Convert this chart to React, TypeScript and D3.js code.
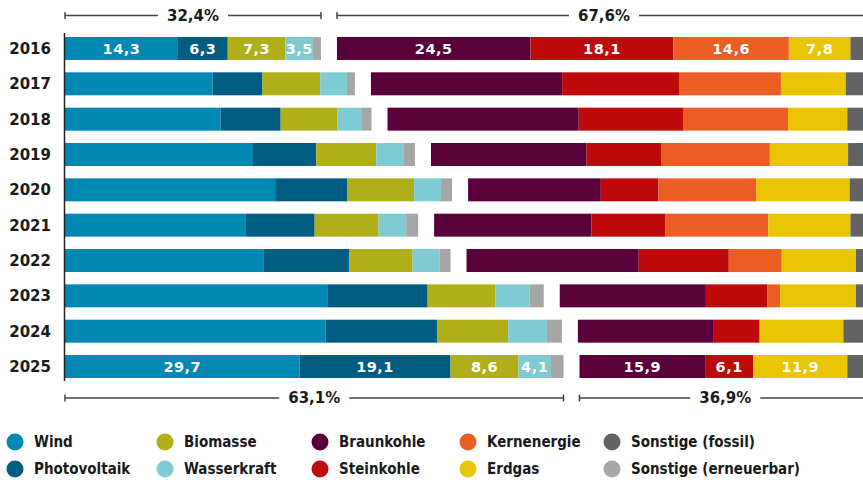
import React from "react";
import * as d3 from "d3";

const years = ["2016", "2017", "2018", "2019", "2020", "2021", "2022", "2023", "2024", "2025"];

const wind = [14.3, 18.7, 19.7, 23.8, 26.6, 22.9, 25.1, 33.2, 33.0, 29.7];
const photovoltaik = [6.3, 6.3, 7.6, 8.0, 9.1, 8.7, 10.9, 12.7, 14.1, 19.1];
const biomasse = [7.3, 7.3, 7.2, 7.6, 8.5, 8.1, 8.0, 8.6, 9.0, 8.6];
const wasserkraft = [3.5, 3.4, 3.0, 3.5, 3.4, 3.5, 3.4, 4.3, 4.9, 4.1];
const sonstigeErneuerbar = [1.0, 1.0, 1.3, 1.4, 1.4, 1.5, 1.4, 1.8, 1.9, 1.6];

const braunkohle = [24.5, 24.2, 24.2, 19.7, 16.8, 19.9, 21.8, 18.5, 17.2, 15.9];
const steinkohle = [18.1, 14.8, 13.2, 9.5, 7.3, 9.4, 11.4, 7.8, 5.8, 6.1];
const kernenergie = [14.6, 12.9, 13.3, 13.7, 12.4, 13.0, 6.7, 1.6, 0, 0];
const erdgas = [7.8, 8.2, 7.5, 9.9, 11.8, 10.4, 9.4, 9.6, 10.6, 11.9];
const sonstigeFossil = [2.6, 3.2, 3.0, 2.9, 2.7, 2.6, 1.9, 1.9, 3.4, 3.0];

const renewables = [
  { name: "Wind", values: wind, color: "#0088b3", label: true },
  { name: "Photovoltaik", values: photovoltaik, color: "#005c80", label: true },
  { name: "Biomasse", values: biomasse, color: "#b0af1a", label: true },
  { name: "Wasserkraft", values: wasserkraft, color: "#7fcbd4", label: true },
  { name: "Sonstige (erneuerbar)", values: sonstigeErneuerbar, color: "#a6a6a6", label: false },
];
const fossils = [
  { name: "Braunkohle", values: braunkohle, color: "#59003a", label: true },
  { name: "Steinkohle", values: steinkohle, color: "#bf0a0c", label: true },
  { name: "Kernenergie", values: kernenergie, color: "#ea5e23", label: true },
  { name: "Erdgas", values: erdgas, color: "#e9c400", label: true },
  { name: "Sonstige (fossil)", values: sonstigeFossil, color: "#636363", label: false },
];

const legendColumns = [
  ["Wind", "Photovoltaik"],
  ["Biomasse", "Wasserkraft"],
  ["Braunkohle", "Steinkohle"],
  ["Kernenergie", "Erdgas"],
  ["Sonstige (fossil)", "Sonstige (erneuerbar)"],
];

const W = 863;
const H = 482;
const GAP = 16;
const boldFont = "'DejaVu Sans', sans-serif";
const legendFont = "'DejaVu Sans Condensed', 'DejaVu Sans', sans-serif";
const fmt = (v: number) => d3.format(".1f")(v).replace(".", ",");

export default function App() {
  const x = d3.scaleLinear().domain([0, 100]).range([65, 855]);
  const y = d3.scaleBand<string>().domain(years).range([37, 378]).paddingInner(0.35).paddingOuter(0);
  const k = x(1) - x(0);
  const bh = y.bandwidth();

  const allSeries = [...renewables, ...fossils];
  const colorOf = (n: string) => allSeries.find((s) => s.name === n)!.color;

  const renTotal = (i: number) => d3.sum(renewables, (s) => s.values[i]);
  const fosTotal = (i: number) => d3.sum(fossils, (s) => s.values[i]);

  const rects: any[] = [];
  years.forEach((yr, i) => {
    let cum = 0;
    const labelRow = i === 0 || i === years.length - 1;
    renewables.forEach((s) => {
      const v = s.values[i];
      const x0 = x(cum);
      rects.push({ key: `${yr}-${s.name}`, x: x0, w: v * k, y: y(yr)!, color: s.color, text: labelRow && s.label && v > 0 ? fmt(v) : null });
      cum += v;
    });
    const fStart = x(renTotal(i)) + GAP;
    let fc = 0;
    fossils.forEach((s) => {
      const v = s.values[i];
      rects.push({ key: `${yr}-${s.name}`, x: fStart + fc * k, w: v * k, y: y(yr)!, color: s.color, text: labelRow && s.label && v > 0 ? fmt(v) : null });
      fc += v;
    });
  });

  const bracket = (x1: number, x2: number, yy: number, text: string, key: string) => {
    const cx = (x1 + x2) / 2;
    const half = 35;
    return (
      <g key={key}>
        <line x1={x1} x2={cx - half} y1={yy} y2={yy} stroke="#444" strokeWidth={1.5} />
        <line x1={cx + half} x2={x2} y1={yy} y2={yy} stroke="#444" strokeWidth={1.5} />
        <line x1={x1} x2={x1} y1={yy - 3.5} y2={yy + 3.5} stroke="#444" strokeWidth={1.5} />
        <line x1={x2} x2={x2} y1={yy - 3.5} y2={yy + 3.5} stroke="#444" strokeWidth={1.5} />
        <text x={cx} y={yy} dy="0.36em" textAnchor="middle" fontFamily={boldFont} fontWeight="bold" fontSize={15} fill="#1a1a1a">
          {text}%
        </text>
      </g>
    );
  };

  const first = 0;
  const last = years.length - 1;
  const brackets = [
    bracket(x(0), x(renTotal(first)), 15.5, fmt(renTotal(first)), "t1"),
    bracket(x(renTotal(first)) + GAP, x(renTotal(first)) + GAP + fosTotal(first) * k, 15.5, fmt(fosTotal(first)), "t2"),
    bracket(x(0), x(renTotal(last)), 398, fmt(renTotal(last)), "b1"),
    bracket(x(renTotal(last)) + GAP, x(renTotal(last)) + GAP + fosTotal(last) * k, 398, fmt(fosTotal(last)), "b2"),
  ];

  const legendX = [15, 165, 320, 468, 612];
  const legendY = [442, 469];

  return (
    <svg width={W} height={H} style={{ position: "absolute", left: 0, top: 0, background: "#fff" }}>
      {rects.map((r) => (
        <g key={r.key}>
          <rect x={r.x} y={r.y} width={Math.max(0, r.w)} height={bh} fill={r.color} />
          {r.text && (
            <text x={r.x + r.w / 2} y={r.y + bh / 2} dy="0.36em" textAnchor="middle" fontFamily={boldFont} fontWeight="bold" fontSize={14.5} fill="#fff" letterSpacing={0.5}>
              {r.text}
            </text>
          )}
        </g>
      ))}
      <line x1={64.5} x2={64.5} y1={33} y2={381} stroke="#222" strokeWidth={1.5} />
      {years.map((yr) => (
        <text key={yr} x={51} y={y(yr)! + bh / 2} dy="0.36em" textAnchor="end" fontFamily={boldFont} fontWeight="bold" fontSize={15} fill="#1a1a1a">
          {yr}
        </text>
      ))}
      {brackets}
      {legendColumns.map((col, ci) =>
        col.map((name, ri) => (
          <g key={name}>
            <circle cx={legendX[ci]} cy={legendY[ri]} r={8.5} fill={colorOf(name)} />
            <text x={legendX[ci] + 19} y={legendY[ri]} dy="0.36em" fontFamily={legendFont} fontStretch="condensed" fontWeight="bold" fontSize={15} fill="#1a1a1a">
              {name}
            </text>
          </g>
        ))
      )}
    </svg>
  );
}
